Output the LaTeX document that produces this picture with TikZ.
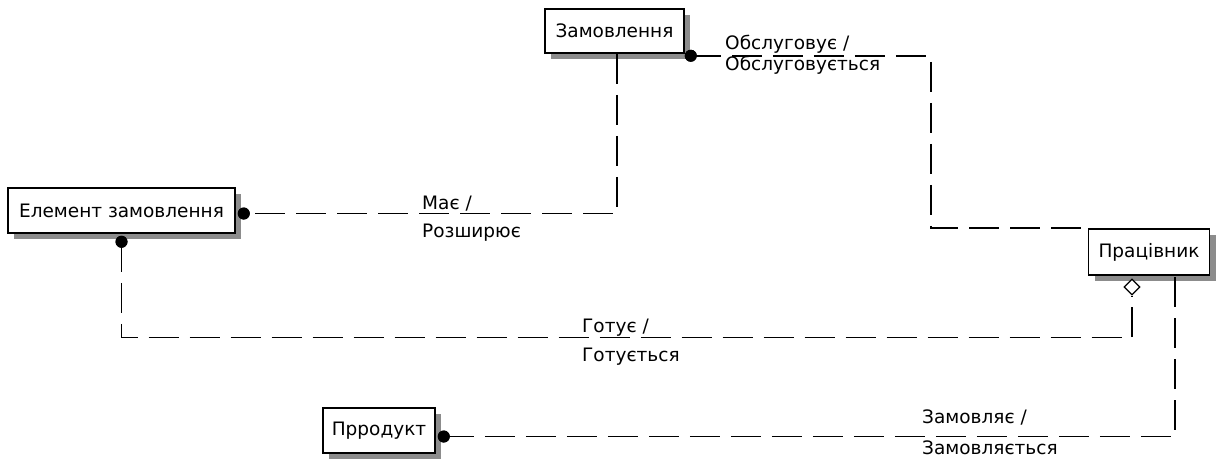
\documentclass[tikz,border=0pt]{standalone}
\usepackage{fontspec}
\setmainfont{DejaVu Sans}
\usetikzlibrary{shadows,shapes.geometric,calc}
\begin{document}
\begin{tikzpicture}[x=1pt,y=-1pt,
  ent/.style={draw=black, line width=1.5pt, fill=white, inner sep=0pt,
    font=\fontsize{18.5}{22}\selectfont,
    general shadow={fill=black!45, shadow xshift=6pt, shadow yshift=-6pt}},
  rel/.style={draw=black, line width=1.6pt, dash pattern=on 30pt off 11pt},
  dotm/.style={circle, fill=black, inner sep=0pt, minimum size=12pt},
  lbl/.style={anchor=base west, inner sep=0pt, font=\fontsize{18.5}{22}\selectfont}]
\useasboundingbox (0,0) rectangle (1217,461);
% entities
\node[ent, minimum width=139pt, minimum height=44pt] (zam) at (614.5,31) {Замовлення};
\node[ent, minimum width=227pt, minimum height=45pt] (elem) at (121.5,210.5) {Елемент замовлення};
\node[ent, minimum width=121pt, minimum height=46pt] (prac) at (1149,252) {Працівник};
\node[ent, minimum width=112pt, minimum height=45pt] (prod) at (379,430.5) {Прродукт};
% end marks
\node[dotm] (d1) at ([xshift=8pt,yshift=-3pt]elem.east) {};
\node[dotm] (d2) at ([xshift=6pt,yshift=-2pt]zam.south east) {};
\node[dotm] (d3) at ([yshift=-8pt]elem.south) {};
\node[dotm] (d4) at ([xshift=8pt,yshift=-6pt]prod.east) {};
\node[diamond, draw=black, line width=1.3pt, fill=white, inner sep=0pt,
  minimum width=16pt, minimum height=16pt] (dia) at (1132,287) {};
% connectors
\draw[rel] ([xshift=2.5pt]zam.south) |- (d1.center);
\draw[rel] (d2.center) -- ++(240,0) |- (prac.north west);
\draw[rel] (d3.center) |- ($(dia.south)+(0,42)$) -- (dia.south);
\draw[rel] (d4.center) -| ([xshift=26pt]prac.south);
\node[dotm] at (d1) {};
\node[dotm] at (d2) {};
\node[dotm] at (d3) {};
\node[dotm] at (d4) {};
% labels
\node[lbl] (l1a) at (725,49) {Обслуговує /};
\node[lbl] (l1b) at (725,70) {Обслуговується};
\node[lbl] (l2a) at (422,209) {Має /};
\node[lbl] (l2b) at (422,237) {Розширює};
\node[lbl] (l3a) at (582,332) {Готує /};
\node[lbl] (l3b) at (582,361) {Готується};
\node[lbl] (l4a) at (922,423) {Замовляє /};
\node[lbl] (l4b) at (922,454) {Замовляється};
\end{tikzpicture}
\end{document}
